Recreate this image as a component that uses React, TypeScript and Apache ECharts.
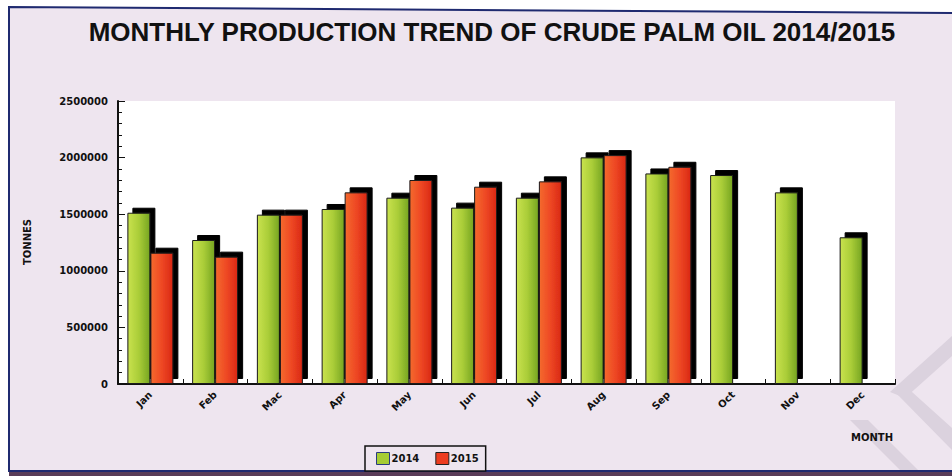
import React, { useEffect, useRef } from "react";
import * as echarts from "echarts";

const months = ["Jan", "Feb", "Mac", "Apr", "May", "Jun", "Jul", "Aug", "Sep", "Oct", "Nov", "Dec"];
const series2014 = [1513000, 1272000, 1496000, 1546000, 1646000, 1558000, 1646000, 2002000, 1860000, 1846000, 1693000, 1296000];
const series2015 = [1160000, 1125000, 1496000, 1693000, 1802000, 1743000, 1790000, 2022000, 1919000, null, null, null];
const yTicks = { min: 0, max: 2500000, interval: 500000 };

const FONT = "DejaVu Sans";

export default function App() {
  const ref = useRef<HTMLDivElement>(null);
  useEffect(() => {
    if (!ref.current) return;
    const chart = echarts.init(ref.current, null, { renderer: "svg" });
    const green = new echarts.graphic.LinearGradient(0, 0, 1, 0, [
      { offset: 0, color: "#c9e24e" },
      { offset: 0.5, color: "#aacd38" },
      { offset: 1, color: "#76a522" },
    ]);
    const red = new echarts.graphic.LinearGradient(0, 0, 1, 0, [
      { offset: 0, color: "#f46a2e" },
      { offset: 0.5, color: "#ee4824" },
      { offset: 1, color: "#d92814" },
    ]);
    const barStyle = (c: any) => ({
      color: c,
      borderColor: "#1a1a1a",
      borderWidth: 1,
      shadowColor: "#000",
      shadowBlur: 0,
      shadowOffsetX: 5,
      shadowOffsetY: -5,
    });
    chart.setOption({
      animation: false,
      backgroundColor: "#ffffff",
      graphic: [
        {
          type: "polygon",
          z: -10,
          shape: { points: [[9, 7], [952, 13], [952, 471], [9, 471]] },
          style: { fill: "#eee5ef" },
        },
        {
          type: "polygon",
          z: -9,
          shape: { points: [[890, 392], [952, 336], [952, 356], [905, 398]] },
          style: { fill: "#dbd2de" },
        },
        {
          type: "polygon",
          z: -9,
          shape: { points: [[895, 392], [912, 392], [952, 428], [952, 450]] },
          style: { fill: "#dbd2de" },
        },
        {
          type: "polygon",
          z: -9,
          shape: { points: [[850, 420], [868, 420], [919, 471], [901, 471]] },
          style: { fill: "#dbd2de" },
        },
        {
          type: "rect",
          z: -8,
          shape: { x: 118, y: 101, width: 777, height: 283 },
          style: { fill: "#ffffff" },
        },
        {
          type: "polyline",
          z: -7,
          shape: { points: [[952, 13], [9, 7], [9, 471], [952, 471]] },
          style: { stroke: "#1f2a70", lineWidth: 2, fill: null },
        },
        {
          type: "rect",
          z: -7,
          shape: { x: 9, y: 472, width: 943, height: 4 },
          style: { fill: "#5a3c58" },
        },
        {
          type: "text",
          z: 5,
          x: 27,
          y: 242,
          rotation: Math.PI / 2,
          style: {
            text: "TONNES",
            font: `bold 10px "${FONT}"`,
            fill: "#111",
            align: "center",
            verticalAlign: "middle",
          },
        },
        {
          type: "text",
          z: 5,
          x: 872,
          y: 437,
          style: {
            text: "MONTH",
            font: `bold 10px "${FONT}"`,
            fill: "#111",
            align: "center",
            verticalAlign: "middle",
          },
        },
      ],
      title: {
        text: "MONTHLY PRODUCTION TREND OF CRUDE PALM OIL 2014/2015",
        left: 487,
        top: 14,
        textAlign: "center",
        textStyle: {
          fontFamily: "Liberation Sans",
          fontWeight: "bold",
          fontSize: 26,
          color: "#111",
        },
      },
      legend: {
        left: 365,
        top: 446,
        orient: "horizontal",
        itemWidth: 13,
        itemHeight: 12,
        itemGap: 16,
        padding: [6, 7, 6, 11],
        borderColor: "#111",
        borderWidth: 1.5,
        backgroundColor: "#eee5ef",
        textStyle: { fontFamily: FONT, fontWeight: "bold", fontSize: 10, color: "#111", padding: [0, 0, 0, -3] },
        data: [
          { name: "2014", icon: "rect", itemStyle: { color: "#a6cc34", borderColor: "#2a3a80", borderWidth: 1, shadowBlur: 0, shadowOffsetX: 0, shadowOffsetY: 0 } },
          { name: "2015", icon: "rect", itemStyle: { color: "#ec3c20", borderColor: "#222", borderWidth: 1, shadowBlur: 0, shadowOffsetX: 0, shadowOffsetY: 0 } },
        ],
      },
      grid: { left: 118, top: 101, width: 777, height: 283, containLabel: false },
      xAxis: {
        type: "category",
        data: months,
        axisLine: { lineStyle: { color: "#111", width: 2 } },
        axisTick: { show: true, inside: true, length: 5, lineStyle: { color: "#111", width: 1 } },
        axisLabel: {
          rotate: 45,
          margin: 9,
          fontFamily: FONT,
          fontWeight: "bold",
          fontSize: 10,
          color: "#111",
        },
        splitLine: { show: false },
      },
      yAxis: {
        type: "value",
        min: yTicks.min,
        max: yTicks.max,
        interval: yTicks.interval,
        axisLine: { show: true, lineStyle: { color: "#111", width: 2 } },
        axisTick: { show: true, inside: true, length: 7, lineStyle: { color: "#111", width: 1 } },
        minorTick: { show: true, splitNumber: 5, length: 4, lineStyle: { color: "#111", width: 1 } },
        axisLabel: {
          margin: 10,
          fontFamily: FONT,
          fontWeight: "bold",
          fontSize: 10,
          color: "#111",
          formatter: (v: number) => String(v),
        },
        splitLine: { show: false },
      },
      series: [
        {
          name: "2014",
          type: "bar",
          data: series2014,
          barWidth: 23,
          barGap: "0%",
          itemStyle: barStyle(green),
        },
        {
          name: "2015",
          type: "bar",
          data: series2015,
          barWidth: 23,
          barGap: "0%",
          itemStyle: barStyle(red),
        },
      ],
    });
    return () => chart.dispose();
  }, []);
  return <div ref={ref} style={{ width: 952, height: 476, position: "absolute", left: 0, top: 0 }} />;
}
